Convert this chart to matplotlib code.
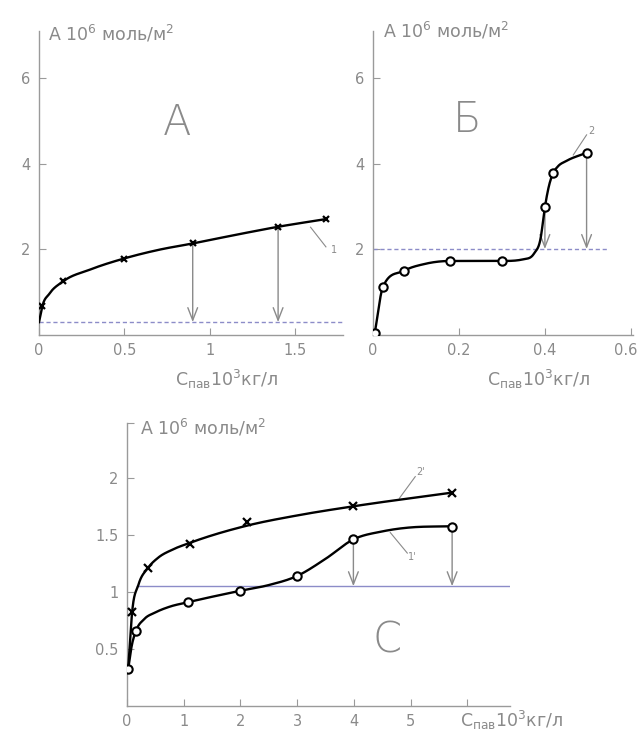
import numpy as np
import matplotlib
matplotlib.use("Agg")
import matplotlib.pyplot as plt
from matplotlib.transforms import ScaledTranslation

# ---- data ----
# panel A (curve 1, x markers)
a_mx = [0.02, 0.14, 0.5, 0.9, 1.4, 1.68]
a_my = [0.67, 1.24, 1.77, 2.13, 2.52, 2.70]
a_cx = [0.0, 0.02, 0.06, 0.14, 0.3, 0.5, 0.7, 0.9, 1.15, 1.4, 1.68]
a_cy = [0.29, 0.67, 0.95, 1.24, 1.52, 1.78, 1.98, 2.13, 2.33, 2.52, 2.70]
a_level = 0.29
a_arrows_x = [0.9, 1.4]
a_arrows_y = [2.13, 2.52]

# panel Б (curve 2, circles)
b_mx = [0.004, 0.023, 0.072, 0.18, 0.30, 0.40, 0.419, 0.497]
b_my = [0.03, 1.11, 1.49, 1.72, 1.72, 2.98, 3.77, 4.25]
b_cx = [0.004, 0.023, 0.072, 0.12, 0.18, 0.25, 0.30, 0.35, 0.375, 0.39, 0.40,
        0.41, 0.419, 0.43, 0.45, 0.497]
b_cy = [0.03, 1.11, 1.49, 1.65, 1.72, 1.72, 1.72, 1.76, 1.90, 2.25, 2.98,
        3.50, 3.77, 3.93, 4.06, 4.25]
b_level = 2.0
b_arrows_x = [0.40, 0.497]
b_arrows_y = [2.98, 4.25]

# panel С (curves 2' x markers, 1' circles)
c2_mx = [0.09, 0.37, 1.11, 2.11, 3.99, 5.73]
c2_my = [0.82, 1.21, 1.42, 1.61, 1.75, 1.87]
c2_cx = [0.02, 0.09, 0.2, 0.37, 0.55, 0.8, 1.11, 2.11, 3.0, 3.99, 5.73]
c2_cy = [0.32, 0.82, 1.06, 1.21, 1.30, 1.37, 1.43, 1.58, 1.67, 1.75, 1.87]
c1_mx = [0.02, 0.16, 1.08, 2.0, 3.0, 3.99, 5.73]
c1_my = [0.32, 0.66, 0.91, 1.01, 1.14, 1.46, 1.57]
c1_cx = [0.02, 0.08, 0.16, 0.3, 0.5, 0.75, 1.08, 2.0, 2.5, 3.0, 3.5, 3.99,
         4.5, 5.0, 5.73]
c1_cy = [0.32, 0.52, 0.66, 0.76, 0.82, 0.87, 0.91, 1.01, 1.06, 1.14, 1.29, 1.46,
         1.53, 1.565, 1.575]
c_level = 1.05
c_arrows_x = [3.99, 5.73]
c_arrows_y = [1.46, 1.57]

GRAY = "#8a8a8a"
AXC = "#9a9a9a"
BLUE = "#8c8cc8"
YLAB = "A 10$^{6}$ моль/м$^{2}$"
XLAB = "C$_{\\mathregular{пав}}$10$^{3}$кг/л"


def smooth(x, y, xs):
    # cubic Hermite through the read points, three-point slopes with a
    # monotonicity limiter (no overshoot on the steep parts)
    x = np.asarray(x, float)
    y = np.asarray(y, float)
    h = np.diff(x)
    d = np.diff(y) / h
    m = np.zeros_like(y)
    for k in range(1, len(x) - 1):
        if d[k - 1] * d[k] > 0:
            s = (h[k] * d[k - 1] + h[k - 1] * d[k]) / (h[k - 1] + h[k])
            lim = 3 * min(abs(d[k - 1]), abs(d[k]))
            m[k] = np.sign(s) * min(abs(s), lim)
    m[0] = d[0]
    m[-1] = d[-1]
    i = np.clip(np.searchsorted(x, xs) - 1, 0, len(h) - 1)
    t = (xs - x[i]) / h[i]
    h00 = 2 * t**3 - 3 * t**2 + 1
    h10 = t**3 - 2 * t**2 + t
    h01 = -2 * t**3 + 3 * t**2
    h11 = t**3 - t**2
    return h00 * y[i] + h10 * h[i] * m[i] + h01 * y[i + 1] + h11 * h[i] * m[i + 1]


def curve(ax, cx, cy):
    xs = np.linspace(cx[0], cx[-1], 800)
    ax.plot(xs, smooth(cx, cy, xs), color="black", lw=1.7, zorder=3)


def style(ax, xlim, ylim):
    ax.set_xlim(*xlim)
    ax.set_ylim(*ylim)
    for s in ["top", "right"]:
        ax.spines[s].set_visible(False)
    for s in ["left", "bottom"]:
        ax.spines[s].set_color(AXC)
        ax.spines[s].set_linewidth(1.0)
    ax.tick_params(direction="in", length=5, color=AXC, labelcolor=GRAY,
                   labelsize=10.5, pad=6)
    ax.patch.set_alpha(0)


def arrows(ax, xs, ys, level):
    for x, y in zip(xs, ys):
        ax.annotate("", xy=(x, level), xytext=(x, y),
                    arrowprops=dict(arrowstyle="->,head_length=0.9,head_width=0.35",
                                    color=GRAY, lw=1.0, shrinkA=0, shrinkB=0),
                    zorder=2)


fig = plt.figure(figsize=(6.41, 7.31), dpi=100)

# ---- panel A ----
axA = fig.add_axes([39 / 641, 1 - 334.5 / 731, 304 / 641, 303.5 / 731])
axA.set_xticks([0, 0.5, 1, 1.5], ["0", "0.5", "1", "1.5"])
axA.set_yticks([2, 4, 6], ["2", "4", "6"])
style(axA, (0, 1.78), (0, 7.1))
axA.plot([0, 1.78], [a_level, a_level], ls=(0, (3, 2)), color=BLUE, lw=1.0)
arrows(axA, a_arrows_x, a_arrows_y, a_level)
curve(axA, a_cx, a_cy)
axA.plot(a_mx, a_my, ls="none", marker="x", ms=4, mew=1.6, color="black", zorder=4)
axA.plot([1.59, 1.68], [2.51, 2.05], color=GRAY, lw=0.8)
axA.text(1.71, 1.98, "1", color=GRAY, fontsize=7, ha="left", va="center")
axA.text(0.81, 4.97, "А", color=GRAY, fontsize=30, fontweight="light",
         ha="center", va="center")
axA.text(0.05, 7.03, YLAB, color=GRAY, fontsize=12.5, ha="left", va="center")
fig.text(175 / 641, 1 - 379 / 731, XLAB, color=GRAY, fontsize=12.5, ha="left", va="center")

# ---- panel Б ----
axB = fig.add_axes([373 / 641, 1 - 334.5 / 731, 260 / 641, 303.5 / 731])
axB.set_xticks([0, 0.2, 0.4, 0.6], ["0", "0.2", "0.4", "0.6"])
axB.set_yticks([2, 4, 6], ["2", "4", "6"])
style(axB, (0, 0.605), (0, 7.1))
last = axB.get_xticklabels()[-1]
last.set_transform(last.get_transform() + ScaledTranslation(-4 / 72, 0, fig.dpi_scale_trans))
axB.plot([0, 0.55], [b_level, b_level], ls=(0, (3, 2)), color=BLUE, lw=1.0)
arrows(axB, b_arrows_x, b_arrows_y, b_level)
curve(axB, b_cx, b_cy)
axB.plot(b_mx, b_my, ls="none", marker="o", ms=6, mew=1.5, mfc="white",
         color="black", zorder=4)
axB.plot([0.466, 0.497], [4.2, 4.67], color=GRAY, lw=0.8)
axB.text(0.5, 4.75, "2", color=GRAY, fontsize=7, ha="left", va="center")
axB.text(0.22, 5.02, "Б", color=GRAY, fontsize=30, fontweight="light",
         ha="center", va="center")
axB.text(0.023, 7.1, YLAB, color=GRAY, fontsize=12.5, ha="left", va="center")
fig.text(487 / 641, 1 - 379 / 731, XLAB, color=GRAY, fontsize=12.5, ha="left", va="center")

# ---- panel С ----
axC = fig.add_axes([127 / 641, 1 - 706 / 731, 383 / 641, 283 / 731])
axC.set_xticks([0, 1, 2, 3, 4, 5, 6], ["0", "1", "2", "3", "4", "5", ""])
axC.set_yticks([0.5, 1, 1.5, 2, 2.48], ["0.5", "1", "1.5", "2", ""])
style(axC, (0, 6.75), (0, 2.48))
axC.plot([0.18, 6.75], [c_level, c_level], color=BLUE, lw=1.0)
arrows(axC, c_arrows_x, c_arrows_y, c_level)
curve(axC, c2_cx, c2_cy)
curve(axC, c1_cx, c1_cy)
axC.plot(c2_mx, c2_my, ls="none", marker="x", ms=6, mew=1.6, color="black", zorder=4)
axC.plot(c1_mx, c1_my, ls="none", marker="o", ms=6, mew=1.5, mfc="white",
         color="black", zorder=4)
axC.plot([4.8, 5.08], [1.82, 2.01], color=GRAY, lw=0.8)
axC.text(5.1, 2.05, "2'", color=GRAY, fontsize=7, ha="left", va="center")
axC.plot([4.64, 4.94], [1.52, 1.34], color=GRAY, lw=0.8)
axC.text(4.95, 1.31, "1'", color=GRAY, fontsize=7, ha="left", va="center")
axC.text(4.58, 0.58, "С", color=GRAY, fontsize=30, fontweight="light",
         ha="center", va="center")
axC.text(0.23, 2.44, YLAB, color=GRAY, fontsize=12.5, ha="left", va="center")
fig.text(460 / 641, 1 - 720 / 731, XLAB, color=GRAY, fontsize=12.5, ha="left", va="center")

fig.savefig("out.png", dpi=100, facecolor="white")
